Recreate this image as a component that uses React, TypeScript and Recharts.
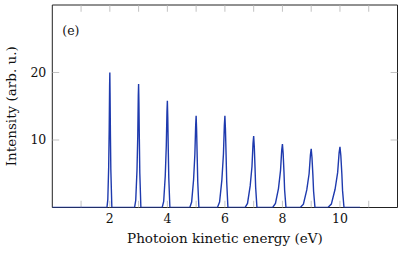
import React from 'react';
import { LineChart, Line, XAxis, YAxis, ReferenceLine, ReferenceArea, Label } from 'recharts';

// Photoion kinetic energy (eV) sample points, one list per peak
const peakEnergies: number[][] = [
  [1.9, 1.93, 1.96, 1.978, 1.992, 2, 2.008, 2.02, 2.035, 2.07],
  [2.86, 2.901, 2.944, 2.971, 2.989, 3, 3.011, 3.026, 3.042, 3.079],
  [3.82, 3.872, 3.927, 3.963, 3.986, 4, 4.014, 4.031, 4.049, 4.088],
  [4.78, 4.844, 4.911, 4.956, 4.984, 5, 5.016, 5.037, 5.056, 5.096],
  [5.74, 5.815, 5.895, 5.949, 5.981, 6, 6.019, 6.043, 6.063, 6.105],
  [6.7, 6.786, 6.879, 6.942, 6.978, 7, 7.022, 7.048, 7.069, 7.114],
  [7.66, 7.757, 7.862, 7.934, 7.975, 8, 8.025, 8.054, 8.076, 8.123],
  [8.62, 8.729, 8.846, 8.927, 8.973, 9, 9.027, 9.059, 9.083, 9.131],
  [9.58, 9.7, 9.83, 9.92, 9.97, 10, 10.03, 10.065, 10.09, 10.14],
];
// Intensity (arb. u.) at those points
const peakIntensities: number[][] = [
  [0, 1.2, 6, 11.6, 18, 20, 17, 11, 5.6, 0],
  [0, 1.1, 5.5, 10.6, 16.5, 18.3, 15.6, 10.1, 5.1, 0],
  [0, 0.9, 4.7, 9.2, 14.2, 15.8, 13.4, 8.7, 4.4, 0],
  [0, 0.8, 4.1, 7.9, 12.2, 13.6, 11.6, 7.5, 3.8, 0],
  [0, 0.8, 4.1, 7.9, 12.2, 13.6, 11.6, 7.5, 3.8, 0],
  [0, 0.6, 3.2, 6.1, 9.5, 10.6, 9, 5.8, 3, 0],
  [0, 0.6, 2.8, 5.5, 8.5, 9.4, 8, 5.2, 2.6, 0],
  [0, 0.5, 2.6, 5, 7.8, 8.7, 7.4, 4.8, 2.4, 0],
  [0, 0.5, 2.7, 5.2, 8.1, 9, 7.7, 5, 2.5, 0],
];
const baselineStart = { e: 0, i: 0 };
const baselineEnd = { e: 10.7, i: 0 };

const xTicks = [2, 4, 6, 8, 10];
const yTicks = [10, 20];
const xMinorTicks = [1, 2, 3, 4, 5, 6, 7, 8, 9, 10, 11];
const xDomain = [0, 12];
const yDomain = [0, 30];

const data = [
  baselineStart,
  ...peakEnergies.flatMap((es, k) => es.map((e, j) => ({ e, i: peakIntensities[k][j] }))),
  baselineEnd,
];

const FONT = 'DejaVu Serif';
const TICK_GREY = '#b4b4b4';
const X_TICK_LEN = 0.24;
const Y_TICK_LEN = 1.0;

export default function App() {
  return (
    <div style={{ position: 'absolute', left: 0, top: 0 }}>
      <LineChart
        width={399}
        height={253}
        data={data}
        margin={{ top: 5, right: 1.5, bottom: 0.5, left: 0 }}
        style={{ fontFamily: FONT }}
      >
        <XAxis
          dataKey="e"
          type="number"
          domain={xDomain}
          ticks={xTicks}
          allowDataOverflow
          axisLine={false}
          tickLine={false}
          tickSize={0}
          tickMargin={7}
          height={45}
          tick={{ fontSize: 12.5, fill: '#111', fontFamily: FONT }}
        >
          <Label
            content={(props: any) => {
              const vb = props.viewBox;
              return (
                <text
                  x={vb.x + vb.width / 2}
                  y={vb.y + 35}
                  textAnchor="middle"
                  fontSize={13.5}
                  fontFamily={FONT}
                  fill="#111"
                >
                  Photoion kinetic energy (eV)
                </text>
              );
            }}
          />
        </XAxis>
        <YAxis
          type="number"
          domain={yDomain}
          ticks={yTicks}
          allowDataOverflow
          axisLine={false}
          tickLine={false}
          tickSize={0}
          tickMargin={6}
          width={52.3}
          tick={{ fontSize: 12.5, fill: '#111', fontFamily: FONT }}
        >
          <Label
            content={(props: any) => {
              const vb = props.viewBox;
              const cx = 16;
              const cy = vb.y + vb.height / 2;
              return (
                <text
                  x={cx}
                  y={cy}
                  transform={`rotate(-90, ${cx}, ${cy})`}
                  textAnchor="middle"
                  fontSize={13.5}
                  fontFamily={FONT}
                  fill="#111"
                >
                  Intensity (arb. u.)
                </text>
              );
            }}
          />
        </YAxis>
        {xMinorTicks.map((t) => (
          <ReferenceLine
            key={`xb${t}`}
            segment={[{ x: t, y: yDomain[0] }, { x: t, y: yDomain[0] + Y_TICK_LEN }]}
            stroke={TICK_GREY}
            strokeWidth={0.8}
          />
        ))}
        {xMinorTicks.map((t) => (
          <ReferenceLine
            key={`xt${t}`}
            segment={[{ x: t, y: yDomain[1] - Y_TICK_LEN }, { x: t, y: yDomain[1] }]}
            stroke={TICK_GREY}
            strokeWidth={0.8}
          />
        ))}
        {yTicks.map((t) => (
          <ReferenceLine
            key={`yl${t}`}
            segment={[{ x: xDomain[0], y: t }, { x: xDomain[0] + X_TICK_LEN, y: t }]}
            stroke={TICK_GREY}
            strokeWidth={0.8}
          />
        ))}
        {yTicks.map((t) => (
          <ReferenceLine
            key={`yr${t}`}
            segment={[{ x: xDomain[1] - X_TICK_LEN, y: t }, { x: xDomain[1], y: t }]}
            stroke={TICK_GREY}
            strokeWidth={0.8}
          />
        ))}
        <Line
          dataKey="i"
          type="linear"
          stroke="#1e3aae"
          strokeWidth={1.4}
          dot={false}
          isAnimationActive={false}
        />
        <ReferenceArea
          x1={xDomain[0]}
          x2={xDomain[1]}
          y1={yDomain[0]}
          y2={yDomain[1]}
          fill="none"
          fillOpacity={0}
          stroke="#222"
          strokeWidth={1}
        >
          <Label
            content={(props: any) => {
              const vb = props.viewBox;
              return (
                <text x={vb.x + 10} y={vb.y + 30} fontSize={12.5} fontFamily={FONT} fill="#111">
                  (e)
                </text>
              );
            }}
          />
        </ReferenceArea>
      </LineChart>
    </div>
  );
}
